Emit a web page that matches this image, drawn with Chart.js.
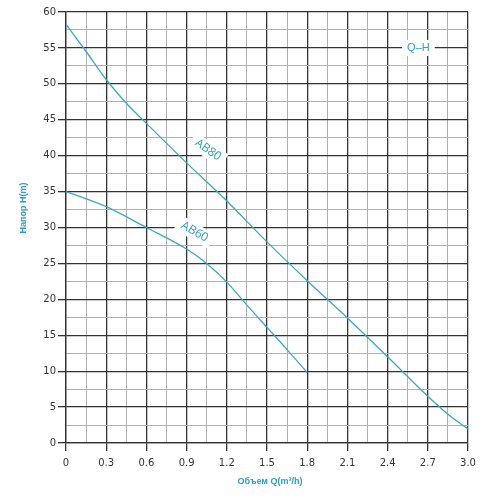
<!DOCTYPE html>
<html>
<head>
<meta charset="utf-8">
<script src="https://cdn.jsdelivr.net/npm/chart.js@4.4.1/dist/chart.umd.min.js"></script>
<style>
  html, body { margin: 0; padding: 0; background: #fff; }
  #wrap { width: 500px; height: 500px; }
</style>
</head>
<body>
<div id="wrap"><canvas id="qhChart" width="500" height="500"></canvas></div>
<script>
// ========== DATA ==========
const ab80Q = [0, 0.15, 0.3, 0.45, 0.6, 0.9, 1.2, 1.5, 1.8, 2.1, 2.4, 2.7, 2.85, 3.0];
const ab80H = [58.3, 54.5, 50.6, 47.3, 44.5, 39.0, 33.7, 28.0, 22.6, 17.4, 12.0, 6.5, 4.0, 1.95];

const ab60Q = [0, 0.3, 0.6, 0.9, 1.05, 1.2, 1.35, 1.5, 1.65, 1.8];
const ab60H = [35.0, 32.9, 30.0, 27.0, 25.0, 22.4, 19.2, 16.1, 13.0, 9.8];

const xTickLabels = ['0', '0.3', '0.6', '0.9', '1.2', '1.5', '1.8', '2.1', '2.4', '2.7', '3.0'];
const yTickLabels = ['0', '5', '10', '15', '20', '25', '30', '35', '40', '45', '50', '55', '60'];

// Подписи кривых (в координатах данных)
const curveLabels = [
    { text: 'AB80', q: 1.06, h: 40.8, angle: 35 },
    { text: 'AB60', q: 0.96, h: 29.4, angle: 30 },
    { text: 'Q\u2013H', q: 2.63, h: 55, angle: 0 }
];

const xTitle = 'Объем Q(m³/h)';
const yTitle = 'Напор H(m)';

const lineColor = '#3ba7c6';
const textColor = '#2a9fc8';
const majorGrid = '#333333';
const minorGrid = '#b0b0b0';

function toPoints(qs, hs) {
    return qs.map((q, i) => ({ x: q, y: hs[i] }));
}

/**
 * Etiquetas sobre el gráfico
 */
const labelsPlugin = {
    id: 'labelsPlugin',
    afterDatasetsDraw(chart) {
        const { ctx, scales } = chart;
        ctx.save();
        curveLabels.forEach(l => {
            const px = scales.x.getPixelForValue(l.q);
            const py = scales.y.getPixelForValue(l.h);
            ctx.save();
            ctx.translate(px, py);
            ctx.rotate(l.angle * Math.PI / 180);
            ctx.font = l.angle ? '12px "Liberation Sans Narrow", "Open Sans", sans-serif' : '11px "Liberation Sans", Arial, sans-serif';
            const w = ctx.measureText(l.text).width;
            ctx.fillStyle = '#ffffff';
            ctx.fillRect(-w / 2 - 5, -8, w + 10, 16);
            ctx.fillStyle = textColor;
            ctx.textAlign = 'center';
            ctx.textBaseline = 'middle';
            ctx.fillText(l.text, 0, 0);
            ctx.restore();
        });

        // Títulos de ejes
        ctx.fillStyle = textColor;
        ctx.font = 'bold 9px "Liberation Sans", Arial, sans-serif';
        ctx.textAlign = 'center';
        ctx.textBaseline = 'middle';
        ctx.fillText(xTitle, 270, 482);
        ctx.save();
        ctx.translate(24, 208);
        ctx.rotate(-Math.PI / 2);
        ctx.fillText(yTitle, 0, 0);
        ctx.restore();
        ctx.restore();
    }
};

function isMajor(value, step) {
    return Math.abs(value / step - Math.round(value / step)) < 1e-6;
}

const qhChart = new Chart(document.getElementById('qhChart'), {
    type: 'line',
    data: {
        datasets: [
            {
                label: 'AB80',
                data: toPoints(ab80Q, ab80H),
                borderColor: lineColor,
                borderWidth: 1.3,
                pointRadius: 0,
                cubicInterpolationMode: 'monotone',
                fill: false
            },
            {
                label: 'AB60',
                data: toPoints(ab60Q, ab60H),
                borderColor: lineColor,
                borderWidth: 1.3,
                pointRadius: 0,
                cubicInterpolationMode: 'monotone',
                fill: false
            }
        ]
    },
    options: {
        responsive: false,
        animation: false,
        layout: { padding: { left: 0, right: 32, top: 12, bottom: 0 } },
        plugins: {
            legend: { display: false },
            tooltip: { enabled: false }
        },
        scales: {
            x: {
                type: 'linear',
                min: 0,
                max: 3,
                afterFit(scale) { scale.height = 57; },
                afterBuildTicks(scale) {
                    const t = [];
                    for (let i = 0; i <= 20; i++) t.push({ value: i * 0.15 });
                    scale.ticks = t;
                },
                ticks: {
                    color: '#333',
                    font: { size: 10, family: '"DejaVu Sans", sans-serif' },
                    padding: 6,
                    maxRotation: 0,
                    autoSkip: false,
                    callback: (v) => isMajor(v, 0.3) ? xTickLabels[Math.round(v / 0.3)] : ''
                },
                grid: {
                    color: (c) => isMajor(c.tick.value, 0.3) ? majorGrid : minorGrid,
                    tickColor: (c) => isMajor(c.tick.value, 0.3) ? majorGrid : 'rgba(0,0,0,0)',
                    lineWidth: (c) => isMajor(c.tick.value, 0.3) ? 1.3 : 1,
                    tickLength: 8
                },
                border: { color: majorGrid, width: 1.3 }
            },
            y: {
                type: 'linear',
                min: 0,
                max: 60,
                afterFit(scale) { scale.width = 66; },
                afterBuildTicks(scale) {
                    const t = [];
                    for (let i = 0; i <= 24; i++) t.push({ value: i * 2.5 });
                    scale.ticks = t;
                },
                ticks: {
                    color: '#333',
                    font: { size: 10, family: '"DejaVu Sans", sans-serif' },
                    padding: 2,
                    autoSkip: false,
                    callback: (v) => isMajor(v, 5) ? yTickLabels[Math.round(v / 5)] : ''
                },
                grid: {
                    color: (c) => isMajor(c.tick.value, 5) ? majorGrid : minorGrid,
                    tickColor: (c) => isMajor(c.tick.value, 5) ? majorGrid : 'rgba(0,0,0,0)',
                    lineWidth: (c) => isMajor(c.tick.value, 5) ? 1.3 : 1,
                    tickLength: 8
                },
                border: { color: majorGrid, width: 1.3 }
            }
        }
    },
    plugins: [labelsPlugin]
});
</script>
</body>
</html>
